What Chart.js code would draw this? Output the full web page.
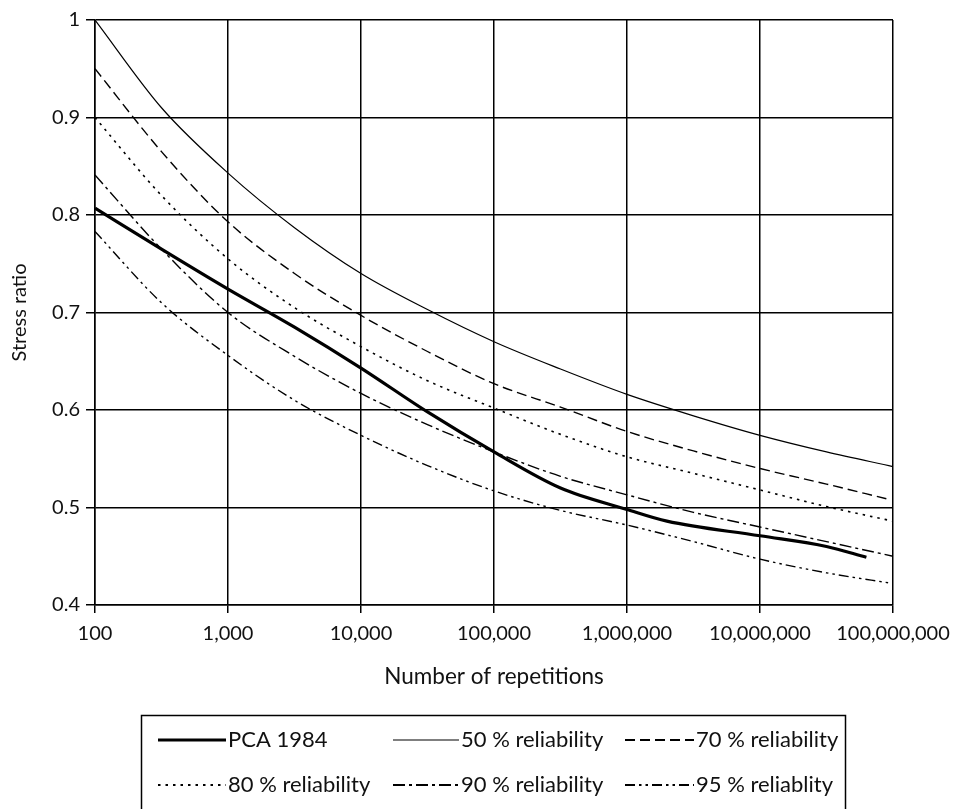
<!DOCTYPE html>
<html>
<head>
<meta charset="utf-8">
<script src="https://cdn.jsdelivr.net/npm/chart.js@4.4.1/dist/chart.umd.min.js"></script>
<style>
  html, body { margin: 0; padding: 0; background: #fff; }
  #wrap { width: 962px; height: 809px; position: relative; }
</style>
</head>
<body>
<div id="wrap"><canvas id="c" width="962" height="809"></canvas></div>
<script>
// ---- data ----
const repetitions = [1e2, 10**2.5, 1e3, 10**3.5, 1e4, 10**4.5, 1e5, 10**5.5, 1e6, 10**6.5, 1e7, 10**7.5, 1e8];
const xTickValues = [1e2, 1e3, 1e4, 1e5, 1e6, 1e7, 1e8];
const yTickLabels = ['0.4', '0.5', '0.6', '0.7', '0.8', '0.9', '1'];

const pcaReps = [1e2, 10**2.5, 1e3, 10**3.5, 1e4, 10**4.5, 1e5, 10**5.5, 1e6, 10**6.3, 1e7, 10**7.5, 10**7.8];
const pca1984 = [0.807, 0.765, 0.724, 0.685, 0.643, 0.598, 0.557, 0.520, 0.498, 0.486, 0.471, 0.460, 0.449];

const rel50 = [1.000, 0.910, 0.843, 0.787, 0.740, 0.703, 0.670, 0.642, 0.616, 0.594, 0.574, 0.557, 0.542];
const rel70Reps = [1e2, 10**2.5, 1e3, 10**3.5, 1e4, 10**4.5, 1e5, 10**5.5, 1e6, 10**6.5, 1e7, 10**7.5, 10**7.95];
const rel70 = [0.950, 0.865, 0.793, 0.740, 0.697, 0.660, 0.627, 0.603, 0.578, 0.558, 0.540, 0.524, 0.509];
const rel80 = [0.900, 0.820, 0.755, 0.705, 0.665, 0.630, 0.602, 0.575, 0.552, 0.535, 0.518, 0.501, 0.486];
const rel90 = [0.841, 0.765, 0.700, 0.655, 0.617, 0.585, 0.557, 0.532, 0.513, 0.495, 0.480, 0.465, 0.450];
const rel95 = [0.783, 0.710, 0.656, 0.610, 0.574, 0.543, 0.517, 0.497, 0.482, 0.465, 0.447, 0.433, 0.422];

const seriesNames = ['PCA 1984', '50 % reliability', '70 % reliability', '80 % reliability', '90 % reliability', '95 % reliablity'];
const xTitle = 'Number of repetitions';
const yTitle = 'Stress ratio';

// ---- build ----
const FONT = 'Lato, "Open Sans", sans-serif';
const INK = '#111';
function pts(xs, ys) { return ys.map((v, i) => ({ x: xs[i], y: v })); }

const styles = [
  { borderWidth: 3.2, borderDash: [] },
  { borderWidth: 1.2, borderDash: [] },
  { borderWidth: 1.4, borderDash: [10, 5] },
  { borderWidth: 1.6, borderDash: [2.5, 5] },
  { borderWidth: 1.4, borderDash: [12, 4, 3, 4] },
  { borderWidth: 1.4, borderDash: [10, 4, 2.5, 4, 2.5, 4] }
];
const seriesData = [
  pts(pcaReps, pca1984),
  pts(repetitions, rel50),
  pts(rel70Reps, rel70),
  pts(repetitions, rel80),
  pts(repetitions, rel90),
  pts(repetitions, rel95)
];

const datasets = seriesNames.map((name, i) => ({
  label: name,
  data: seriesData[i],
  borderColor: '#000',
  backgroundColor: '#000',
  borderWidth: styles[i].borderWidth,
  borderDash: styles[i].borderDash,
  pointRadius: 0,
  fill: false,
  cubicInterpolationMode: 'monotone'
}));

// legend layout (positions only)
const legendLayout = {
  box: { x: 141.5, y: 715.5, w: 704, h: 120 },
  rows: [740, 785],
  cols: [{ x1: 158, x2: 226 }, { x1: 393, x2: 459 }, { x1: 625, x2: 694 }]
};

const legendPlugin = {
  id: 'boxLegend',
  afterDraw(chart) {
    const ctx = chart.ctx;
    const L = legendLayout;
    ctx.save();
    ctx.strokeStyle = '#000';
    ctx.lineWidth = 1.5;
    ctx.setLineDash([]);
    ctx.strokeRect(L.box.x, L.box.y, L.box.w, L.box.h);
    chart.data.datasets.forEach((ds, i) => {
      const row = Math.floor(i / 3), col = i % 3;
      const y = L.rows[row];
      const c = L.cols[col];
      ctx.beginPath();
      ctx.setLineDash(ds.borderDash || []);
      ctx.lineWidth = ds.borderWidth + (i >= 2 ? 0.6 : 0);
      ctx.strokeStyle = '#000';
      ctx.moveTo(c.x1, y);
      ctx.lineTo(c.x2, y);
      ctx.stroke();
      ctx.setLineDash([]);
      ctx.fillStyle = INK;
      ctx.font = '22px ' + FONT;
      ctx.textAlign = 'left';
      ctx.textBaseline = 'middle';
      ctx.fillText(ds.label, c.x2 + 2, y);
    });
    ctx.restore();
  }
};

new Chart(document.getElementById('c'), {
  type: 'line',
  data: { datasets },
  options: {
    responsive: false,
    animation: false,
    layout: { padding: { left: 0, top: 20, right: 69, bottom: 119 } },
    plugins: { legend: { display: false }, tooltip: { enabled: false } },
    scales: {
      x: {
        type: 'logarithmic',
        min: 100,
        max: 1e8,
        afterBuildTicks(scale) { scale.ticks = xTickValues.map(v => ({ value: v })); },
        afterFit(scale) { scale.height = 85; },
        ticks: {
          autoSkip: false,
          maxRotation: 0,
          padding: 9,
          color: INK,
          font: { family: FONT, size: 20 },
          callback: (v) => Number(v).toLocaleString('en-US')
        },
        grid: { color: '#000', lineWidth: 1.5, tickLength: 8, drawTicks: true },
        border: { display: true, color: '#000', width: 1.5 },
        title: { display: true, text: xTitle, color: INK, font: { family: FONT, size: 22.5 }, padding: { top: 1, bottom: 0 } }
      },
      y: {
        type: 'linear',
        min: 0.4,
        max: 1,
        afterBuildTicks(scale) { scale.ticks = yTickLabels.map(t => ({ value: parseFloat(t) })); },
        afterFit(scale) { scale.width = 95; },
        ticks: {
          padding: 6,
          color: INK,
          font: { family: FONT, size: 20 },
          callback: (v) => { const s = yTickLabels.find(t => Math.abs(parseFloat(t) - v) < 1e-6); return s; }
        },
        grid: { color: '#000', lineWidth: 1.5, tickLength: 9, drawTicks: true },
        border: { display: true, color: '#000', width: 1.5 },
        title: { display: true, text: yTitle, color: INK, font: { family: FONT, size: 20 }, padding: { top: 8, bottom: 0 } }
      }
    }
  },
  plugins: [legendPlugin]
});
</script>
</body>
</html>
